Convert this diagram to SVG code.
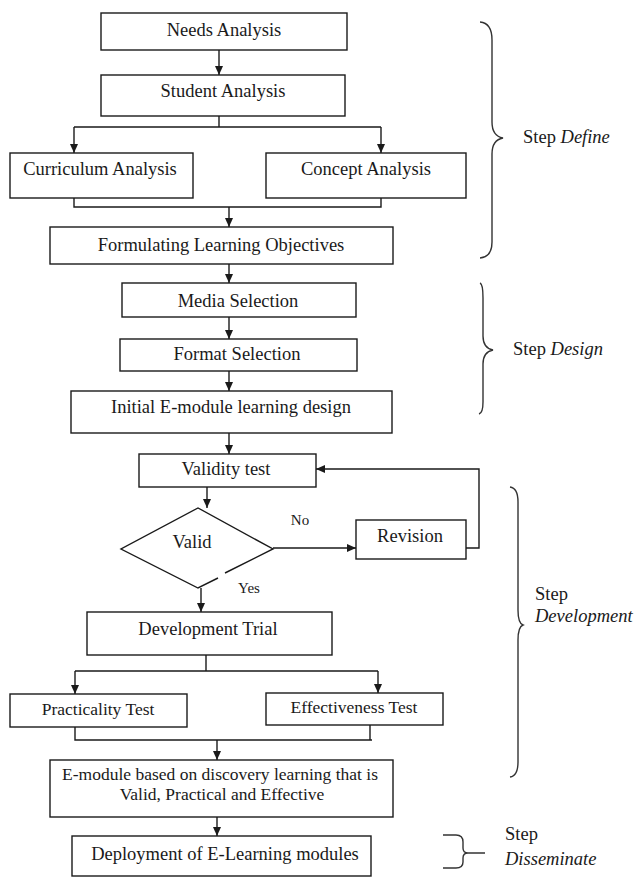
<svg xmlns="http://www.w3.org/2000/svg" width="638" height="879" viewBox="0 0 638 879">
<defs>
<marker id="ah" markerUnits="userSpaceOnUse" markerWidth="9" markerHeight="8" refX="9" refY="4" orient="auto">
<path d="M0,0 L9,4 L0,8 z" fill="#1a1a1a"/>
</marker>
<style>
.box{fill:#fff;stroke:#1a1a1a;stroke-width:1.4}
.t{font-family:"Liberation Serif","Times New Roman",serif;font-size:18.5px;fill:#1a1a1a;text-anchor:middle}
.t2{font-family:"Liberation Serif","Times New Roman",serif;font-size:17.5px;fill:#1a1a1a;text-anchor:middle}
.s{font-family:"Liberation Serif","Times New Roman",serif;font-size:18.5px;fill:#1a1a1a}
.lbl{font-family:"Liberation Serif","Times New Roman",serif;font-size:15px;fill:#1a1a1a;text-anchor:middle}
.c{fill:none;stroke:#1a1a1a;stroke-width:1.4}
.a{fill:none;stroke:#1a1a1a;stroke-width:1.4;marker-end:url(#ah)}
.br{fill:none;stroke:#333;stroke-width:1.4}
</style>
</defs>
<rect width="638" height="879" fill="#fff"/>

<g id="connectors">
<path class="a" d="M219,50 V75"/>
<path class="c" d="M219,116 V127 M74,127 H381"/>
<path class="a" d="M74,127 V153"/>
<path class="a" d="M381,127 V153"/>
<path class="c" d="M74,198 V207 H381 V198"/>
<path class="a" d="M229,207 V227"/>
<path class="a" d="M229,264 V283"/>
<path class="a" d="M229,317 V339"/>
<path class="a" d="M229,371 V391"/>
<path class="a" d="M229,433 V454"/>
<path class="a" d="M207,487 V508"/>
<path class="a" d="M273,548 H356"/>
<path class="a" d="M466,548 H479 V469 H316"/>
<path class="a" d="M201,588 V612"/>
<path class="c" d="M206,655 V671 M75,671 H378"/>
<path class="a" d="M75,671 V694"/>
<path class="a" d="M378,671 V693"/>
<path class="c" d="M75,727 V740 H372 M370,725 V740"/>
<path class="a" d="M217,740 V760"/>
<path class="a" d="M217,817 V836"/>
</g>

<g id="needs"><rect class="box" x="101" y="13" width="246" height="37"/><text class="t" x="224" y="36">Needs Analysis</text></g>
<g id="student"><rect class="box" x="101" y="75" width="244" height="41"/><text class="t" x="223" y="97">Student Analysis</text></g>
<g id="curriculum"><rect class="box" x="10" y="153" width="183" height="45"/><text class="t" x="100" y="175">Curriculum  Analysis</text></g>
<g id="concept"><rect class="box" x="266" y="153" width="200" height="45"/><text class="t" x="366" y="175">Concept Analysis</text></g>
<g id="objectives"><rect class="box" x="50" y="227" width="343" height="37"/><text class="t" x="221" y="251">Formulating Learning Objectives</text></g>
<g id="media"><rect class="box" x="122" y="283" width="234" height="34"/><text class="t" x="238" y="307">Media Selection</text></g>
<g id="format"><rect class="box" x="120" y="339" width="237" height="32"/><text class="t" x="237" y="360">Format Selection</text></g>
<g id="initial"><rect class="box" x="71" y="391" width="321" height="42"/><text class="t" x="231" y="413">Initial E-module learning design</text></g>
<g id="validity"><rect class="box" x="139" y="454" width="177" height="33"/><text class="t" x="226" y="475">Validity test</text></g>
<g id="valid">
<path class="c" d="M225,573 L273,549 L198,508 L121,549 L198,588 L218,578"/>
<text class="t" x="192" y="548">Valid</text>
</g>
<g id="revision"><rect class="box" x="356" y="520" width="110" height="39"/><text class="t" x="410" y="542">Revision</text></g>
<g id="devtrial"><rect class="box" x="87" y="612" width="245" height="43"/><text class="t" x="208" y="635">Development Trial</text></g>
<g id="practicality"><rect class="box" x="10" y="694" width="177" height="33"/><text class="t2" x="98" y="715">Practicality Test</text></g>
<g id="effectiveness"><rect class="box" x="266" y="693" width="177" height="32"/><text class="t2" x="354" y="713">Effectiveness Test</text></g>
<g id="emodule"><rect class="box" x="50" y="760" width="343" height="57"/><text class="t2" x="220" y="780">E-module based on discovery learning that is</text><text class="t2" x="222" y="800">Valid, Practical and Effective</text></g>
<g id="deployment"><rect class="box" x="72" y="836" width="299" height="40"/><text class="t" x="225" y="860">Deployment of E-Learning modules</text></g>

<g id="labels">
<text class="lbl" x="300" y="525">No</text>
<text class="lbl" x="249" y="593">Yes</text>
</g>

<g id="step-define">
<path class="br" d="M480,22 Q492,23 492,40 L492,122 Q492,136 503,138 Q492,140 492,154 L492,242 Q492,257 480,258"/>
<text class="s" x="523" y="143">Step <tspan font-style="italic">Define</tspan></text>
</g>
<g id="step-design">
<path class="br" d="M480,283 Q483,284 483,298 L483,336 Q483,348 493,350 Q483,352 483,364 L483,402 Q483,413 479,414"/>
<text class="s" x="513" y="355">Step <tspan font-style="italic">Design</tspan></text>
</g>
<g id="step-development">
<path class="br" d="M510,487 Q518,488 518,502 L518,610 Q518,623 523,625 Q518,627 518,640 L518,762 Q518,776 510,777"/>
<text class="s" x="535" y="600">Step</text>
<text class="s" x="535" y="622" font-style="italic">Development</text>
</g>
<g id="step-disseminate">
<path class="br" d="M443,835 L456,835 Q463,835 463,842 L463,848 Q463,853 468,853 L485,853 M468,853 Q463,853 463,858 L463,862 Q463,868 456,868 L443,868"/>
<text class="s" x="505" y="840">Step</text>
<text class="s" x="505" y="865" font-style="italic">Disseminate</text>
</g>
</svg>
